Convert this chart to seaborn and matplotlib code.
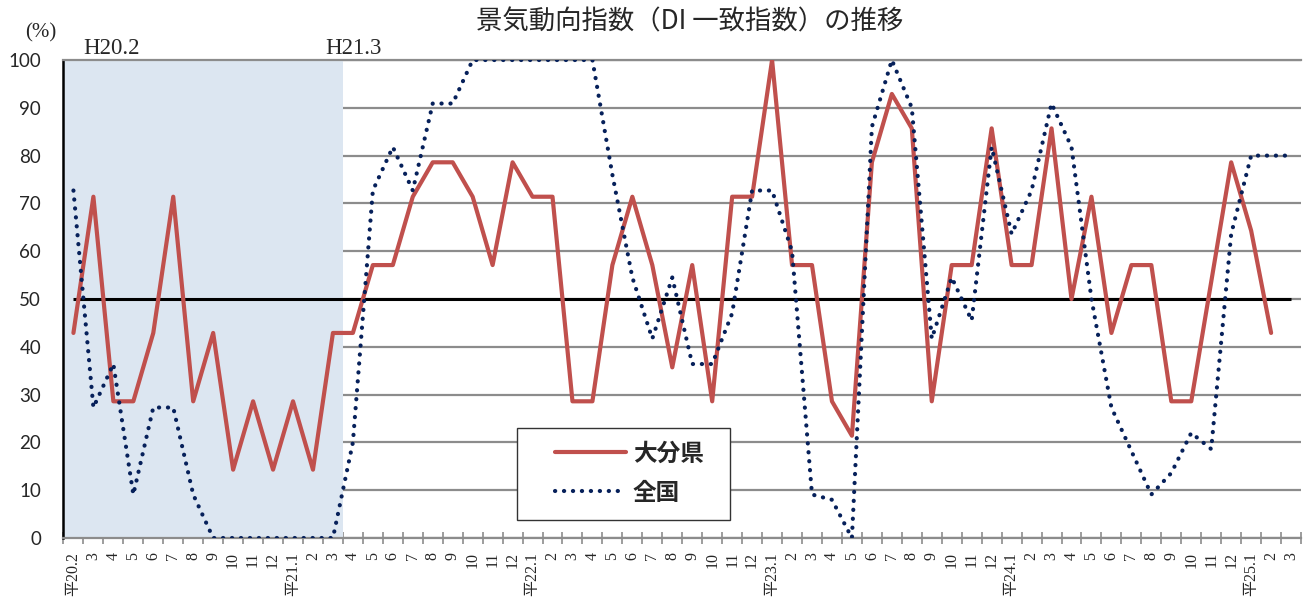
import numpy as np
import pandas as pd
import matplotlib
matplotlib.use("Agg")
import matplotlib.pyplot as plt
from matplotlib.patches import Rectangle
import seaborn as sns

# x axis: monthly, H20.2 - H25.3
month_labels = [
    "平20.2", "3", "4", "5", "6", "7", "8", "9", "10", "11", "12",
    "平21.1", "2", "3", "4", "5", "6", "7", "8", "9", "10", "11", "12",
    "平22.1", "2", "3", "4", "5", "6", "7", "8", "9", "10", "11", "12",
    "平23.1", "2", "3", "4", "5", "6", "7", "8", "9", "10", "11", "12",
    "平24.1", "2", "3", "4", "5", "6", "7", "8", "9", "10", "11", "12",
    "平25.1", "2", "3",
]

# 大分県 DI (ends at H25.2)
oita = [
    42.9, 71.4, 28.6, 28.6, 42.9, 71.4, 28.6, 42.9, 14.3, 28.6, 14.3,
    28.6, 14.3, 42.9, 42.9, 57.1, 57.1, 71.4, 78.6, 78.6, 71.4, 57.1, 78.6,
    71.4, 71.4, 28.6, 28.6, 57.1, 71.4, 57.1, 35.7, 57.1, 28.6, 71.4, 71.4,
    100.0, 57.1, 57.1, 28.6, 21.4, 78.6, 92.9, 85.7, 28.6, 57.1, 57.1, 85.7,
    57.1, 57.1, 85.7, 50.0, 71.4, 42.9, 57.1, 57.1, 28.6, 28.6, 53.6, 78.6,
    64.3, 42.9,
]

# 全国 DI
national = [
    72.7, 27.3, 36.4, 9.1, 27.3, 27.3, 9.1, 0.0, 0.0, 0.0, 0.0,
    0.0, 0.0, 0.0, 20.0, 72.7, 81.8, 72.7, 90.9, 90.9, 100.0, 100.0, 100.0,
    100.0, 100.0, 100.0, 100.0, 76.0, 54.5, 41.7, 54.5, 36.4, 36.4, 47.0, 72.7,
    72.7, 60.0, 9.1, 8.0, 0.0, 86.0, 100.0, 90.0, 41.7, 54.5, 45.5, 81.8,
    63.6, 72.7, 90.9, 81.8, 50.0, 27.3, 18.2, 9.1, 13.6, 22.0, 18.6, 63.6,
    80.0, 80.0, 80.0,
]

series_names = ["大分県", "全国"]
shade_labels = ["H20.2", "H21.3"]
shade_range = (0, 13)  # H20.2 .. H21.3

df = pd.DataFrame({
    "x": np.arange(len(month_labels)),
    "oita": oita + [np.nan] * (len(month_labels) - len(oita)),
    "national": national,
})

red = "#c0504d"
navy = "#06205a"
grid_gray = "#8c8c8c"

sns.set_theme(style="white")
# serif (with CJK fallback) as default; title/legend/y labels get their own fonts
plt.rcParams["font.family"] = ["Liberation Serif", "Noto Sans CJK JP"]
plt.rcParams["xtick.labelsize"] = 11.5

fig = plt.figure(figsize=(13.03, 6.02), dpi=100)
ax = fig.add_axes([0.0487, 0.1063, 0.9498, 0.7940])

# shaded period
ax.axvspan(shade_range[0] - 0.5, shade_range[1] + 0.5, color="#dce6f1", lw=0, zorder=1)

# 50 reference line
ax.hlines(50, df["x"].iloc[0], df["x"].iloc[-1], color="black", lw=2.2, zorder=3)

sns.lineplot(data=df, x="x", y="oita", ax=ax, color=red, lw=3.0,
             label=series_names[0], zorder=4)
sns.lineplot(data=df, x="x", y="national", ax=ax, color=navy, lw=3.0,
             linestyle=(0, (0.05, 2.1)), dash_capstyle="round",
             label=series_names[1], zorder=5)

ax.set_xlim(-0.5, len(month_labels) - 0.5)
ax.set_ylim(0, 100)
ax.set_xlabel("")
ax.set_ylabel("")

# grid
ax.set_yticks(range(0, 101, 10))
ax.set_axisbelow(True)
ax.yaxis.grid(True, color=grid_gray, lw=1.6)
ax.xaxis.grid(False)

ax.spines["right"].set_visible(False)
ax.spines["top"].set_color(grid_gray)
ax.spines["top"].set_linewidth(1.6)
ax.spines["bottom"].set_color(grid_gray)
ax.spines["bottom"].set_linewidth(1.6)
ax.spines["left"].set_color("black")
ax.spines["left"].set_linewidth(1.8)

ax.set_xticks(df["x"])
ax.set_xticklabels(month_labels)
ax.set_xticks(np.arange(-0.5, len(month_labels), 1), minor=True)
ax.tick_params(axis="x", which="major", length=0, pad=10, labelrotation=90)
ax.tick_params(axis="x", which="minor", direction="inout", length=8,
               width=1.2, color=grid_gray, bottom=True)
ax.tick_params(axis="y", length=0, pad=16, labelsize=13.5, labelfontfamily="Lato")

# period labels
ax.text(1.9, 1.025, shade_labels[0], transform=ax.get_xaxis_transform(),
        ha="center", va="center", fontsize=16.5)
ax.text(14.05, 1.025, shade_labels[1], transform=ax.get_xaxis_transform(),
        ha="center", va="center", fontsize=16.5)
ax.text(-0.018, 1.057, "(%)", transform=ax.transAxes, ha="center", va="center",
        fontsize=15)

fig.text(0.5296, 0.9635, "景気動向指数（DI 一致指数）の推移", ha="center", va="center",
         fontsize=19, family=["Noto Sans CJK JP"])

# legend box
ax.add_patch(Rectangle((0.3665, 0.0377), 0.1721, 0.1925, transform=ax.transAxes,
                       facecolor="white", edgecolor="#333333", lw=1.0, zorder=6))
leg = ax.legend(loc="center left", bbox_to_anchor=(0.3972, 0.136), borderaxespad=0,
                borderpad=0, frameon=False, handlelength=3.0, handletextpad=0.3,
                labelspacing=0.65,
                prop={"family": "Noto Sans CJK JP", "size": 17, "weight": "bold"})
leg.set_zorder(7)

fig.savefig("out.png", dpi=100)
